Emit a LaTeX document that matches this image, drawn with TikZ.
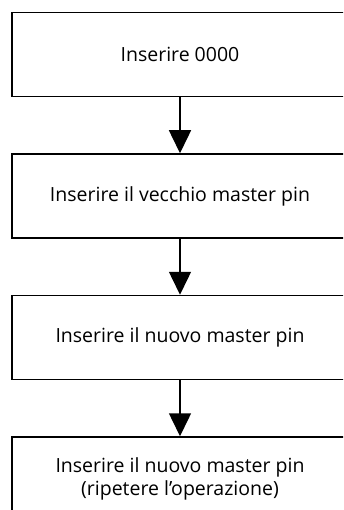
\documentclass[tikz,border=0pt]{standalone}
\usepackage{fontspec}
\setmainfont{Open Sans}
\usetikzlibrary{positioning,arrows.meta}

\begin{document}
\begin{tikzpicture}[node distance=56pt, >={Triangle[width=22pt,length=23pt]},
  stepbox/.style={draw, line width=1.5pt, minimum width=336pt, minimum height=84pt, align=center, font=\fontsize{19.5}{23}\selectfont}]
  \useasboundingbox (0,0) rectangle (343pt,-510pt);
  \clip (0,0) rectangle (343pt,-510pt);
  \node [stepbox] (s1) at (180pt,-54.5pt) {Inserire 0000};
  \node [stepbox] (s2) [below=of s1] {Inserire il vecchio master pin};
  \node [stepbox] (s3) [below=of s2] {Inserire il nuovo master pin};
  \node [stepbox] (s4) [below=of s3] {Inserire il nuovo master pin\\(ripetere l’operazione)};
  \draw [->, line width=1.5pt] (s1) -- (s2);
  \draw [->, line width=1.5pt] (s2) -- (s3);
  \draw [->, line width=1.5pt] (s3) -- (s4);
\end{tikzpicture}
\end{document}
